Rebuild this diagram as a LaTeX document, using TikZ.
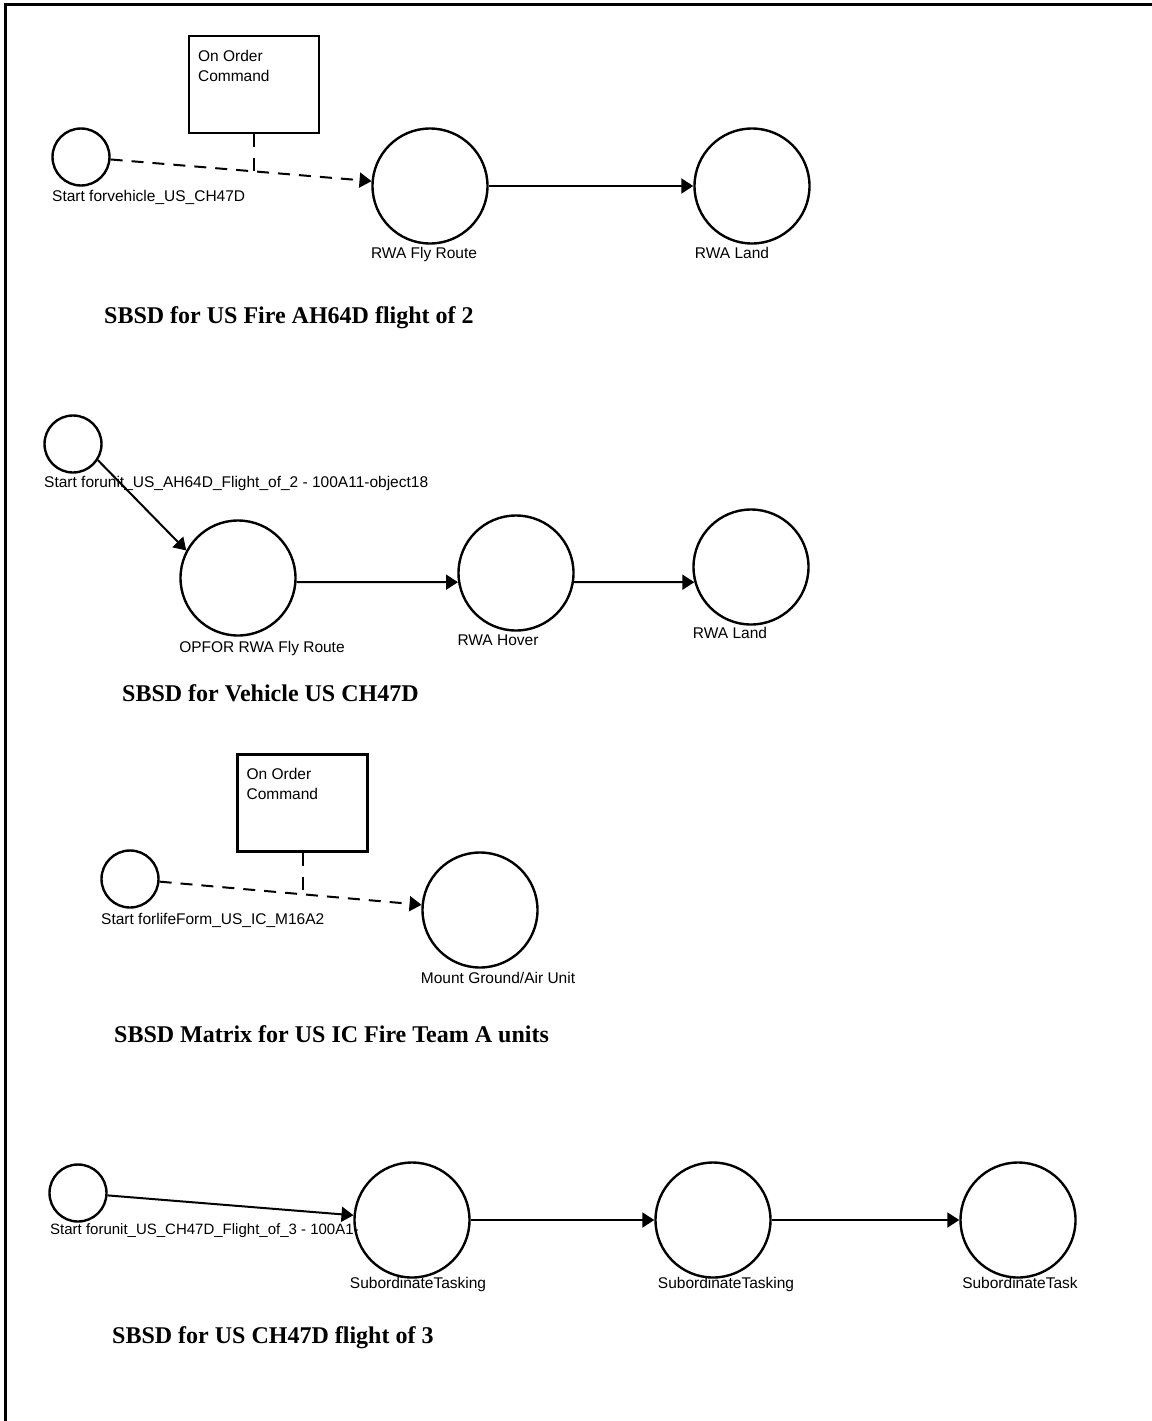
\documentclass[tikz,border=0pt]{standalone}
\usepackage{fontspec}
\usetikzlibrary{arrows.meta,calc}
\newfontfamily\labfont{Liberation Sans}
\newfontfamily\ttlfont{Liberation Serif}
\begin{document}
\begin{tikzpicture}[x=1pt,y=-1pt,
  state/.style={circle,draw,line width=2.4pt,minimum size=115pt,inner sep=0pt,fill=white},
  startst/.style={circle,draw,line width=2.4pt,minimum size=57pt,inner sep=0pt,fill=white},
  cmdbox/.style={draw,line width=2.2pt,minimum width=130pt,minimum height=97pt,inner sep=0pt},
  lbl/.style={font=\labfont\fontsize{15.5}{20}\selectfont,inner sep=0pt},
  boxtxt/.style={lbl,align=left,anchor=north west},
  ttl/.style={font=\ttlfont\bfseries\fontsize{24}{29}\selectfont,inner sep=0pt,anchor=base west},
  arr/.style={line width=2pt,-{Triangle[length=12pt,width=15pt]}},
  dsh/.style={arr,dash pattern=on 12pt off 9pt},
  tick/.style={line width=2pt,dash pattern=on 13pt off 11pt}]
\useasboundingbox (0,0) rectangle (1151,1421);
\fill[white] (0,0) rectangle (1151,1421);
\draw[line width=3pt] (5,1425) -- (5,5) -- (1155,5);

% ---- diagram 1
\node[cmdbox] (b1) at (254,84.5) {};
\node[boxtxt] (b1t) at ($(b1.north west)+(10,15)$) {On Order\\Command};
\node[startst] (s1) at (81,157) {};
\node[lbl,anchor=base west] (s1l) at (52,201) {Start forvehicle\_US\_CH47D};
\node[state] (f1) at (430,186) {};
\node[lbl,anchor=base] (f1l) at (424,258) {RWA Fly Route};
\node[state] (l1) at (752,186) {};
\node[lbl,anchor=base] (l1l) at (732,258) {RWA Land};
\draw[dsh] (s1) -- (f1);
\coordinate (j1) at ($(s1)!(b1.south)!(f1)$);
\draw[tick] (b1.south) -- (b1.south |- j1);
\draw[arr] (f1) -- (l1);
\node[ttl] (t1) at (104,323) {SBSD for US Fire AH64D flight of 2};

% ---- diagram 2
\node[startst] (s2) at (73,444) {};
\node[lbl,anchor=base west] (s2l) at (44,487) {Start forunit\_US\_AH64D\_Flight\_of\_2 - 100A11-object18};
\node[state] (o2) at (238,578) {};
\node[lbl,anchor=base] (o2l) at (262,652) {OPFOR RWA Fly Route};
\node[state] (h2) at (516,573) {};
\node[lbl,anchor=base] (h2l) at (498,645) {RWA Hover};
\node[state] (l2) at (751,567) {};
\node[lbl,anchor=base] (l2l) at (730,638) {RWA Land};
\draw[arr] (s2.-33) -- (o2.152);
\draw[arr] (o2.-4) -- (h2.189);
\draw[arr] (h2.-9) -- (l2.195);
\node[ttl] (t2) at (122,701) {SBSD for Vehicle US CH47D};

% ---- diagram 3
\node[cmdbox] (b3) at (302.5,803) {};
\node[boxtxt] (b3t) at ($(b3.north west)+(10,15)$) {On Order\\Command};
\node[startst] (s3) at (130,879) {};
\node[lbl,anchor=base west] (s3l) at (101,924) {Start forlifeForm\_US\_IC\_M16A2};
\node[state] (m3) at (480,910) {};
\node[lbl,anchor=base] (m3l) at (498,983) {Mount Ground/Air Unit};
\draw[dsh] (s3) -- (m3);
\coordinate (j3) at ($(s3)!(b3.south)!(m3)$);
\draw[tick] (b3.south) -- (b3.south |- j3);
\node[ttl] (t3) at (114,1042) {SBSD Matrix for US IC Fire Team A units};

% ---- diagram 4
\node[startst] (s4) at (78,1193) {};
\node[state] (u1) at (412,1220) {};
\node[lbl,anchor=base west] (s4l) at (50,1234) {\fontsize{15}{20}\selectfont Start forunit\_US\_CH47D\_Flight\_of\_3 - 100A1-};
\node[lbl,anchor=base] (u1l) at (418,1288) {SubordinateTasking};
\node[state] (u2) at (713,1220) {};
\node[lbl,anchor=base] (u2l) at (726,1288) {SubordinateTasking};
\node[state] (u3) at (1018,1220) {};
\node[lbl,anchor=base] (u3l) at (1020,1288) {SubordinateTask};
\draw[arr] (s4) -- (u1);
\draw[arr] (u1) -- (u2);
\draw[arr] (u2) -- (u3);
\node[ttl] (t4) at (112,1343) {SBSD for US CH47D flight of 3};
\end{tikzpicture}
\end{document}
